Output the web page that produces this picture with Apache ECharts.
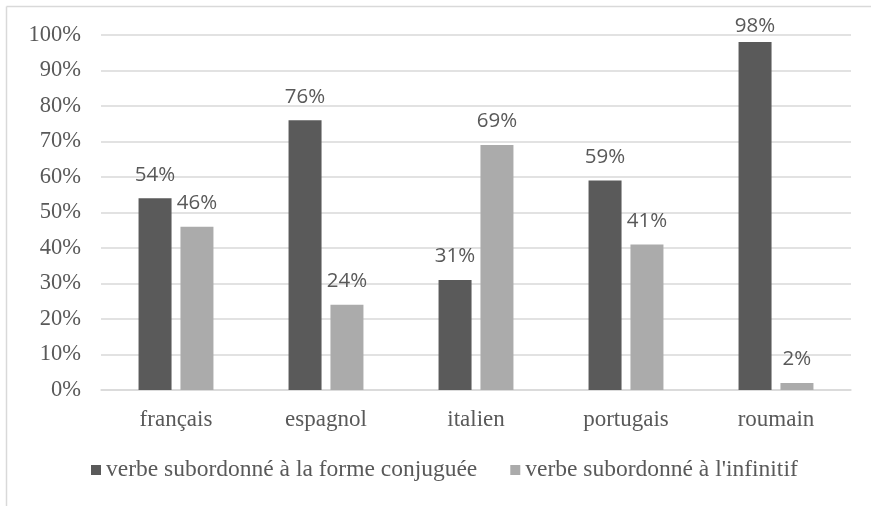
<!DOCTYPE html>
<html><head><meta charset="utf-8">
<script src="https://cdn.jsdelivr.net/npm/echarts@6/dist/echarts.min.js"></script>
<style>html,body{margin:0;padding:0;background:#fff}#c{width:871px;height:506px}</style>
</head><body><div id="c"></div>
<script>
const categories = ['français','espagnol','italien','portugais','roumain'];
const seriesNames = ['verbe subordonné à la forme conjuguée', "verbe subordonné à l'infinitif"];
const conjugated = [54, 76, 31, 59, 98];
const infinitive = [46, 24, 69, 41, 2];
const yTicks = [0,10,20,30,40,50,60,70,80,90,100];

const chart = echarts.init(document.getElementById('c'), null, {renderer:'canvas'});
const serif = '"Liberation Serif", "Times New Roman", serif';
const sans = '"Open Sans", "Liberation Sans", sans-serif';
chart.setOption({
  animation:false,
  backgroundColor:'#fff',
  graphic:[
    {type:'line', shape:{x1:6.5,y1:6.5,x2:871,y2:6.5}, style:{stroke:'#d9d9d9',lineWidth:1.5}},
    {type:'line', shape:{x1:6.5,y1:6.5,x2:6.5,y2:506}, style:{stroke:'#d9d9d9',lineWidth:1.5}}
  ],
  grid:{left:101,right:20,top:35,bottom:116},
  legend:{
    top:453, left:86, itemWidth:10, itemHeight:10, itemGap:33, icon:'rect',
    textStyle:{fontFamily:serif,fontSize:23.5,color:'#595959'},
    data:seriesNames
  },
  xAxis:{type:'category',data:categories,
    axisLine:{show:true,lineStyle:{color:'#d9d9d9',width:1.5}},axisTick:{show:false},
    axisLabel:{fontFamily:serif,fontSize:23,color:'#595959',margin:18}},
  yAxis:{type:'value',min:0,max:100,interval:10,
    axisLine:{show:false},axisTick:{show:false},
    splitLine:{lineStyle:{color:'#d9d9d9',width:1.5}},
    axisLabel:{fontFamily:serif,fontSize:22.5,color:'#595959',margin:20,
      formatter:v=>yTicks.includes(v)?v+'%':''}},
  series:[
    {name:seriesNames[0],type:'bar',barWidth:33,barGap:'27%',
     itemStyle:{color:'#5a5a5a'},
     data:conjugated.map(v=>v>=95?{value:v,label:{distance:5}}:v),
     label:{show:true,position:'top',distance:13,fontFamily:sans,fontSize:20.5,color:'#595959',formatter:'{c}%'}},
    {name:seriesNames[1],type:'bar',barWidth:33,
     itemStyle:{color:'#ababab'},
     data:infinitive,
     label:{show:true,position:'top',distance:13,fontFamily:sans,fontSize:20.5,color:'#595959',formatter:'{c}%'}}
  ]
});
</script></body></html>
